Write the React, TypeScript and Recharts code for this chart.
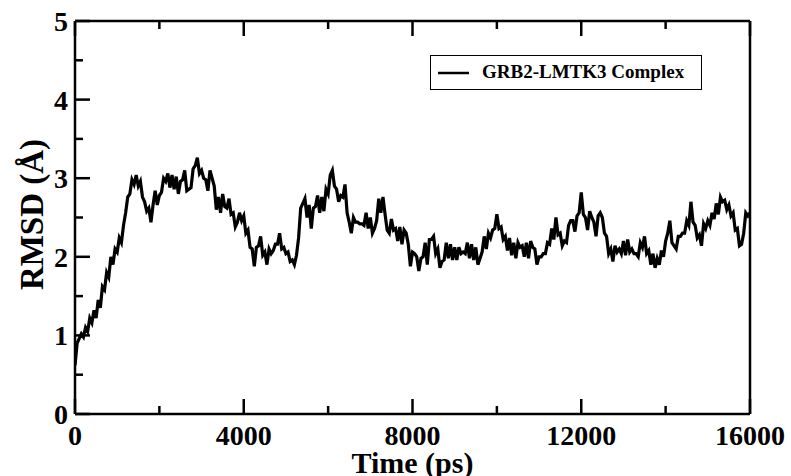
import React from 'react';
import { LineChart, Line, XAxis, YAxis, Legend } from 'recharts';

// ---- data (RMSD in Å, sampled every 50 ps) ----
const SAMPLE_STEP_PS = 50;
const rmsd_0ns = [0.62, 0.9, 0.96, 1.02, 0.98, 1.1, 1.05, 1.22, 1.16, 1.32, 1.22, 1.45, 1.35, 1.62, 1.58, 1.8, 1.74, 2.0, 1.9, 2.1];
const rmsd_1ns = [2.06, 2.24, 2.18, 2.4, 2.56, 2.76, 2.8, 2.98, 2.92, 3.04, 2.9, 2.96, 2.76, 2.7, 2.58, 2.62, 2.44, 2.66, 2.84, 2.66];
const rmsd_2ns = [2.78, 2.82, 3.0, 2.96, 3.06, 2.88, 3.04, 2.86, 3.02, 2.8, 2.96, 2.98, 3.1, 2.84, 2.86, 2.88, 3.12, 3.16, 3.26, 3.06];
const rmsd_3ns = [3.1, 3.0, 2.98, 2.84, 3.1, 3.0, 2.9, 2.6, 2.76, 2.56, 2.8, 2.64, 2.62, 2.74, 2.54, 2.56, 2.38, 2.44, 2.56, 2.46];
const rmsd_4ns = [2.52, 2.3, 2.34, 2.12, 2.1, 1.88, 2.12, 2.14, 2.26, 2.02, 2.06, 1.9, 2.1, 2.04, 2.08, 2.16, 2.16, 2.3, 2.1, 2.12];
const rmsd_5ns = [2.04, 2.06, 1.94, 1.96, 1.9, 2.02, 2.24, 2.62, 2.68, 2.74, 2.5, 2.66, 2.36, 2.62, 2.64, 2.78, 2.56, 2.76, 2.58, 2.86];
const rmsd_6ns = [2.8, 3.04, 3.1, 2.9, 2.86, 2.7, 2.78, 2.76, 2.92, 2.56, 2.44, 2.3, 2.5, 2.44, 2.44, 2.42, 2.42, 2.4, 2.56, 2.36];
const rmsd_7ns = [2.5, 2.3, 2.36, 2.46, 2.74, 2.56, 2.76, 2.54, 2.34, 2.3, 2.48, 2.34, 2.36, 2.2, 2.38, 2.16, 2.34, 2.3, 2.16, 1.88];
const rmsd_8ns = [2.06, 2.04, 2.0, 1.82, 1.98, 2.0, 2.18, 1.9, 2.22, 2.22, 2.26, 2.04, 2.1, 1.86, 1.94, 1.96, 2.18, 1.98, 2.16, 1.96];
const rmsd_9ns = [2.12, 1.96, 2.12, 2.04, 2.06, 2.04, 2.18, 1.98, 2.16, 1.96, 2.12, 1.9, 1.98, 2.06, 2.26, 2.1, 2.3, 2.24, 2.34, 2.36];
const rmsd_10ns = [2.54, 2.36, 2.38, 2.22, 2.26, 2.08, 2.24, 2.02, 2.18, 1.98, 2.18, 2.12, 2.14, 2.0, 2.18, 1.98, 2.2, 2.12, 2.1, 1.9];
const rmsd_11ns = [2.0, 2.0, 2.04, 2.04, 2.18, 2.16, 2.36, 2.22, 2.5, 2.28, 2.3, 2.14, 2.2, 2.18, 2.4, 2.46, 2.46, 2.32, 2.52, 2.56];
const rmsd_12ns = [2.82, 2.54, 2.5, 2.34, 2.58, 2.5, 2.44, 2.26, 2.52, 2.56, 2.5, 2.3, 2.26, 2.04, 2.1, 1.94, 2.14, 2.06, 2.1, 2.04];
const rmsd_13ns = [2.2, 2.02, 2.22, 2.06, 2.1, 2.04, 2.04, 2.0, 2.18, 2.12, 2.26, 2.04, 2.08, 1.9, 2.04, 1.86, 1.98, 1.9, 2.08, 2.0];
const rmsd_14ns = [2.2, 2.3, 2.46, 2.18, 2.14, 2.1, 2.26, 2.26, 2.3, 2.3, 2.46, 2.4, 2.7, 2.44, 2.4, 2.24, 2.28, 2.14, 2.42, 2.36];
const rmsd_15ns = [2.46, 2.4, 2.56, 2.48, 2.68, 2.54, 2.76, 2.7, 2.72, 2.6, 2.66, 2.52, 2.56, 2.34, 2.36, 2.14, 2.16, 2.3, 2.56, 2.52];
const rmsd_16ns = [2.56];

const rmsdSegments = [
  rmsd_0ns, rmsd_1ns, rmsd_2ns, rmsd_3ns, rmsd_4ns, rmsd_5ns, rmsd_6ns, rmsd_7ns,
  rmsd_8ns, rmsd_9ns, rmsd_10ns, rmsd_11ns, rmsd_12ns, rmsd_13ns, rmsd_14ns, rmsd_15ns, rmsd_16ns,
];

const xTicks = [0, 2000, 4000, 6000, 8000, 10000, 12000, 14000, 16000];
const xLabeled = [0, 4000, 8000, 12000, 16000];
const yTicks = [0, 0.5, 1, 1.5, 2, 2.5, 3, 3.5, 4, 4.5, 5];
const yLabeled = [0, 1, 2, 3, 4, 5];

const seriesName = 'GRB2-LMTK3 Complex';
const xTitle = 'Time (ps)';
const yTitle = 'RMSD (Å)';

const rmsdValues: number[] = ([] as number[]).concat(...rmsdSegments);
const data = rmsdValues.map((v, i) => ({ time: i * SAMPLE_STEP_PS, rmsd: v }));

const FONT = '"Liberation Serif", "Times New Roman", serif';
const MAJOR = 15;
const MINOR = 8;
const SW = 2.5;

const BottomTick = (props: any) => {
  const { x, y, payload } = props;
  const major = xLabeled.includes(payload.value);
  return (
    <g>
      <line x1={x} x2={x} y1={y} y2={y - (major ? MAJOR : MINOR)} stroke="#000" strokeWidth={SW} />
      {major && (
        <text x={x} y={y + 31} textAnchor="middle" fontFamily={FONT} fontWeight="bold" fontSize={28} fill="#000">
          {payload.value}
        </text>
      )}
    </g>
  );
};

const TopTick = (props: any) => {
  const { x, y, payload } = props;
  const major = xLabeled.includes(payload.value);
  return <line x1={x} x2={x} y1={y} y2={y + (major ? MAJOR : MINOR)} stroke="#000" strokeWidth={SW} />;
};

const LeftTick = (props: any) => {
  const { x, y, payload } = props;
  const major = yLabeled.includes(payload.value);
  return (
    <g>
      <line x1={x} x2={x + (major ? MAJOR : MINOR)} y1={y} y2={y} stroke="#000" strokeWidth={SW} />
      {major && (
        <text x={x - 7} y={y + 10} textAnchor="end" fontFamily={FONT} fontWeight="bold" fontSize={28} fill="#000">
          {payload.value}
        </text>
      )}
    </g>
  );
};

const RightTick = (props: any) => {
  const { x, y, payload } = props;
  const major = yLabeled.includes(payload.value);
  return <line x1={x} x2={x - (major ? MAJOR : MINOR)} y1={y} y2={y} stroke="#000" strokeWidth={SW} />;
};

const XTitle = (props: any) => {
  const vb = props.viewBox || { x: 75, y: 414, width: 675 };
  return (
    <text x={vb.x + vb.width / 2} y={vb.y + 59} textAnchor="middle" fontFamily={FONT} fontWeight="bold" fontSize={30} fill="#000">
      {xTitle}
    </text>
  );
};

const YTitle = (props: any) => {
  const vb = props.viewBox || { x: 15, y: 21, width: 60, height: 393 };
  const cx = 43;
  const cy = vb.y + vb.height / 2 - 3;
  return (
    <text x={cx} y={cy} transform={`rotate(-90 ${cx} ${cy})`} textAnchor="middle" fontFamily={FONT} fontWeight="bold" fontSize={33} fill="#000">
      {yTitle}
    </text>
  );
};

const LegendBox = () => (
  <div
    style={{
      position: 'absolute',
      left: 430,
      top: 55,
      width: 270,
      height: 33,
      border: '1.5px solid #000',
      background: '#fff',
      boxSizing: 'content-box',
    }}
  >
    <svg width={40} height={33} style={{ position: 'absolute', left: 5, top: 0 }}>
      <line x1={2} x2={33} y1={17} y2={17} stroke="#000" strokeWidth={2.5} />
    </svg>
    <span
      style={{
        position: 'absolute',
        left: 51,
        top: 5,
        fontFamily: FONT,
        fontWeight: 'bold',
        fontSize: 19,
        lineHeight: '22px',
        whiteSpace: 'nowrap',
        color: '#000',
      }}
    >
      {seriesName}
    </span>
  </div>
);

export default function App() {
  return (
    <div style={{ position: 'absolute', left: 0, top: 0, width: 791, height: 476, background: '#fff' }}>
      <LineChart width={791} height={476} data={data} margin={{ top: 20, right: 40, bottom: 32, left: 15 }}>
        <XAxis
          dataKey="time"
          type="number"
          domain={[0, 16000]}
          ticks={xTicks}
          interval={0}
          height={30}
          tickSize={0}
          tickMargin={0}
          tickLine={false}
          axisLine={{ stroke: '#000', strokeWidth: SW }}
          tick={<BottomTick />}
          label={<XTitle />}
          allowDataOverflow
        />
        <XAxis
          xAxisId="top"
          orientation="top"
          dataKey="time"
          type="number"
          domain={[0, 16000]}
          ticks={xTicks}
          interval={0}
          height={1}
          tickSize={0}
          tickMargin={0}
          tickLine={false}
          axisLine={{ stroke: '#000', strokeWidth: SW }}
          tick={<TopTick />}
        />
        <YAxis
          type="number"
          domain={[0, 5]}
          ticks={yTicks}
          interval={0}
          width={60}
          tickSize={0}
          tickMargin={0}
          tickLine={false}
          axisLine={{ stroke: '#000', strokeWidth: SW }}
          tick={<LeftTick />}
          label={<YTitle />}
          allowDataOverflow
        />
        <YAxis
          yAxisId="right"
          orientation="right"
          type="number"
          domain={[0, 5]}
          ticks={yTicks}
          interval={0}
          width={1}
          tickSize={0}
          tickMargin={0}
          tickLine={false}
          axisLine={{ stroke: '#000', strokeWidth: SW }}
          tick={<RightTick />}
        />
        <Legend layout="horizontal" verticalAlign="middle" align="right" content={<LegendBox />} wrapperStyle={{ left: 0, top: 0, width: 0, height: 0 }} />
        <Line
          type="linear"
          dataKey="rmsd"
          name={seriesName}
          stroke="#000"
          strokeWidth={3.2}
          dot={false}
          activeDot={false}
          isAnimationActive={false}
        />
      </LineChart>
    </div>
  );
}
